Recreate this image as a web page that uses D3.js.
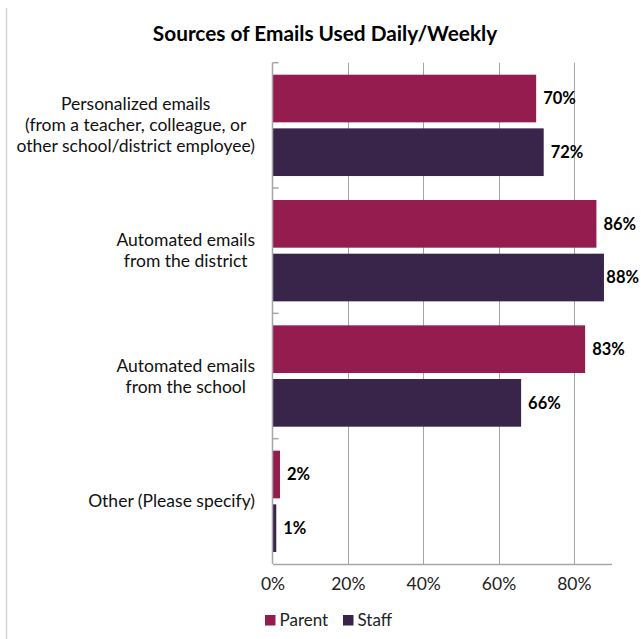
<!DOCTYPE html>
<html>
<head>
<meta charset="utf-8">
<script src="https://cdn.jsdelivr.net/npm/d3@7"></script>
<style>
  html, body { margin: 0; padding: 0; background: #fff; }
  svg { display: block; font-family: Lato, "Open Sans", sans-serif; }
</style>
</head>
<body>
<svg id="chart" width="641" height="639"></svg>
<script>
// Survey categories (top to bottom), with line breaks for the axis labels
const categories = [
  "Personalized emails",
  "Automated emails from the district",
  "Automated emails from the school",
  "Other (Please specify)"
];
const categoryLines = [
  ["Personalized emails", "(from a teacher, colleague, or", "other school/district employee)"],
  ["Automated emails", "from the district"],
  ["Automated emails", "from the school"],
  ["Other (Please specify)"]
];
const seriesNames = ["Parent", "Staff"];
const parentValues = [0.70, 0.86, 0.83, 0.02];
const staffValues = [0.72, 0.88, 0.66, 0.01];
const tickValues = [0, 0.2, 0.4, 0.6, 0.8];
const colors = { Parent: "#951C4F", Staff: "#39244A" };

const W = 641;
const svg = d3.select("#chart");

// Outer frame edge on the left
svg.append("line")
  .attr("x1", 6.5).attr("x2", 6.5).attr("y1", 8).attr("y2", 639)
  .attr("stroke", "#d4d4d4").attr("stroke-width", 1.5);

// Title
svg.append("text")
  .attr("x", 325).attr("y", 40.5)
  .attr("text-anchor", "middle")
  .attr("font-weight", 700)
  .attr("font-size", 20.8)
  .attr("fill", "#000")
  .text("Sources of Emails Used Daily/Weekly");

const x = d3.scaleLinear().domain([0, 0.9]).range([272.5, 611.5]);
const y = d3.scaleBand().domain(categories).range([62.7, 564]);
const ySub = d3.scaleBand().domain(seriesNames)
  .range([0, y.bandwidth()])
  .paddingInner(0.112).paddingOuter(0.2235);

// Vertical gridlines
svg.append("g")
  .selectAll("line")
  .data(tickValues.slice(1))
  .join("line")
  .attr("x1", d => Math.round(x(d)) + 0.5)
  .attr("x2", d => Math.round(x(d)) + 0.5)
  .attr("y1", 62.7).attr("y2", 564)
  .attr("stroke", "#a6a6a6").attr("stroke-width", 1);

// Bars
const rows = categories.map((c, i) => ({
  cat: c,
  values: [
    { s: "Parent", v: parentValues[i] },
    { s: "Staff", v: staffValues[i] }
  ]
}));

const groups = svg.append("g")
  .selectAll("g")
  .data(rows)
  .join("g")
  .attr("transform", d => `translate(0,${y(d.cat)})`);

groups.selectAll("rect")
  .data(d => d.values)
  .join("rect")
  .attr("x", x(0))
  .attr("y", d => ySub(d.s))
  .attr("width", d => x(d.v) - x(0))
  .attr("height", ySub.bandwidth())
  .attr("fill", d => colors[d.s]);

// Value labels after each bar, kept inside the canvas
groups.selectAll("text")
  .data(d => d.values)
  .join("text")
  .attr("y", d => ySub(d.s) + ySub.bandwidth() / 2)
  .attr("dy", "0.35em")
  .attr("font-weight", 700)
  .attr("font-size", 16.5)
  .attr("fill", "#000")
  .text(d => d3.format(".0%")(d.v))
  .each(function (d) {
    const w = this.getComputedTextLength();
    d3.select(this).attr("x", Math.min(x(d.v) + 7, W - w - 2));
  });

// Bottom axis
const xAxis = d3.axisBottom(x)
  .tickValues(tickValues)
  .tickFormat(d3.format(".0%"))
  .tickSize(0)
  .tickPadding(14);

const gx = svg.append("g")
  .attr("transform", "translate(0,564)")
  .call(xAxis);
gx.select(".domain").attr("stroke", "#a6a6a6").attr("stroke-width", 1.5);
gx.selectAll("text")
  .attr("font-family", "Lato, 'Open Sans', sans-serif")
  .attr("font-size", 17.5)
  .attr("fill", "#222");

// Left category axis line with inside ticks at band boundaries
svg.append("line")
  .attr("x1", x(0)).attr("x2", x(0))
  .attr("y1", 62.7).attr("y2", 564)
  .attr("stroke", "#a6a6a6").attr("stroke-width", 1.5);
const boundaries = categories.map(c => y(c));
svg.append("g")
  .selectAll("line")
  .data(boundaries)
  .join("line")
  .attr("x1", x(0)).attr("x2", x(0) + 6)
  .attr("y1", d => d).attr("y2", d => d)
  .attr("stroke", "#a6a6a6").attr("stroke-width", 1.5);

// Category labels: centred lines, block right-aligned against the axis
const labelRight = 255;
const lineH = 21;
const labelG = svg.append("g");
categoryLines.forEach((lines, i) => {
  const g = labelG.append("g");
  const cy = y(categories[i]) + y.bandwidth() / 2;
  const texts = lines.map((ln, j) =>
    g.append("text")
      .attr("y", cy + (j - (lines.length - 1) / 2) * lineH)
      .attr("dy", "0.35em")
      .attr("text-anchor", "middle")
      .attr("font-size", 17.5)
      .attr("fill", "#111")
      .text(ln)
  );
  const maxW = d3.max(texts, t => t.node().getComputedTextLength());
  texts.forEach(t => t.attr("x", labelRight - maxW / 2));
});

// Legend
const legend = svg.append("g").attr("transform", "translate(265,620)");
const legendX = [0, 78];
seriesNames.forEach((s, i) => {
  const g = legend.append("g").attr("transform", `translate(${legendX[i]},0)`);
  g.append("rect").attr("x", 0).attr("y", -5).attr("width", 10.5).attr("height", 10.5)
    .attr("fill", colors[s]);
  g.append("text").attr("x", 14.5).attr("y", 0.5).attr("dy", "0.35em")
    .attr("font-size", 17).attr("fill", "#222").text(s);
});
</script>
</body>
</html>
